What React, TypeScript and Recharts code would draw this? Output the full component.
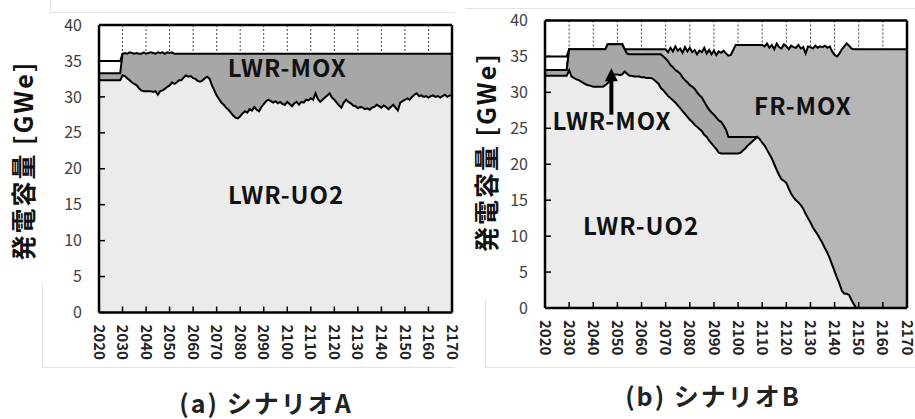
import React from 'react';
import {
  ComposedChart,
  Area,
  XAxis,
  YAxis,
  CartesianGrid,
  ReferenceLine,
  ReferenceDot,
} from 'recharts';

// ---- categories ----
const years: number[] = Array.from({ length: 151 }, (_, i) => 2020 + i);
const yearTicks = [2020, 2030, 2040, 2050, 2060, 2070, 2080, 2090, 2100, 2110, 2120, 2130, 2140, 2150, 2160, 2170];
const capacityTicks = [0, 5, 10, 15, 20, 25, 30, 35, 40];

// ---- Scenario A (cumulative boundaries, GWe) ----
const bandTopA: (number | null)[] = [35, 35, 35, 35, 35, 35, 35, 35, 35, 35, 36];

const lwrMoxTopA: number[] = [
  33.3, 33.3, 33.3, 33.3, 33.3, 33.3, 33.3, 33.3, 33.3, 33.3,
  36.0, 36.1, 36.0, 36.2, 36.1, 36.0, 36.1, 36.0, 36.0, 36.2,
  36.0, 36.1, 36.2, 36.1, 36.0, 36.2, 36.1, 36.2, 36.0, 36.2,
  36.1, 36.2, 36.0, 36.0, 36.0, 36.0, 36.0, 36.0, 36.0, 36.0,
  36.0, 36.0, 36.0, 36.0, 36.0, 36.0, 36.0, 36.0, 36.0, 36.0,
  36.0, 36.0, 36.0, 36.0, 36.0, 36.0, 36.0, 36.0, 36.0, 36.0,
  36.0, 36.0, 36.0, 36.0, 36.0, 36.0, 36.0, 36.0, 36.0, 36.0,
  36.0, 36.0, 36.0, 36.0, 36.0, 36.0, 36.0, 36.0, 36.0, 36.0,
  36.0, 36.0, 36.0, 36.0, 36.0, 36.0, 36.0, 36.0, 36.0, 36.0,
  36.0, 36.0, 36.0, 36.0, 36.0, 36.0, 36.0, 36.0, 36.0, 36.0,
  36.0, 36.0, 36.0, 36.0, 36.0, 36.0, 36.0, 36.0, 36.0, 36.0,
  36.0, 36.0, 36.0, 36.0, 36.0, 36.0, 36.0, 36.0, 36.0, 36.0,
  36.0, 36.0, 36.0, 36.0, 36.0, 36.0, 36.0, 36.0, 36.0, 36.0,
  36.0, 36.0, 36.0, 36.0, 36.0, 36.0, 36.0, 36.0, 36.0, 36.0,
  36.0, 36.0, 36.0, 36.0, 36.0, 36.0, 36.0, 36.0, 36.0, 36.0,
  36.0,
];

const lwrUo2A: number[] = [
  32.3, 32.3, 32.3, 32.3, 32.3, 32.3, 32.3, 32.3, 32.3, 32.3,
  33.0, 32.9, 32.6, 32.3, 32.0, 31.8, 31.6, 31.2, 30.9, 30.8,
  30.8, 30.8, 30.8, 30.7, 30.8, 30.3, 30.8, 30.9, 31.1, 31.4,
  31.6, 32.0, 31.8, 32.0, 32.3, 32.3, 32.7, 33.0, 32.8, 32.9,
  32.6, 32.5, 32.2, 32.1, 32.3, 32.6, 32.8, 32.5, 31.6, 30.9,
  30.2, 29.7, 29.2, 28.9, 28.5, 28.2, 27.8, 27.4, 27.1, 27.0,
  27.3, 27.7, 28.0, 27.8, 28.3, 28.1, 28.6, 28.2, 28.0, 28.6,
  29.0, 29.4, 29.6, 29.4, 29.2, 29.4, 29.1, 29.3, 29.0, 28.9,
  29.3, 29.0, 28.7, 29.1, 29.3, 28.9, 29.3, 29.2, 29.6, 29.5,
  29.8, 29.6, 30.5, 29.7, 29.3, 29.6, 29.9, 30.2, 30.5, 29.9,
  29.6, 29.2, 28.8, 28.5, 29.2, 29.6, 29.3, 29.1, 28.8, 28.7,
  28.4, 28.6, 28.5, 28.3, 28.4, 28.2, 28.5, 28.6, 28.9, 28.7,
  28.5, 28.8, 28.6, 28.3, 28.6, 28.9, 28.5, 28.1, 29.2, 29.4,
  29.6, 29.8, 29.6, 30.0, 30.3, 30.5, 30.1, 30.2, 30.0, 30.1,
  29.9, 30.1, 30.2, 30.0, 30.1, 29.9, 30.1, 30.3, 30.0, 30.2,
  30.2,
];

// ---- Scenario B (cumulative boundaries, GWe) ----
const bandTopB: (number | null)[] = [35, 35, 35, 35, 35, 35, 35, 35, 35, 35, 36];

const frMoxTopB: number[] = [
  33.1, 33.1, 33.1, 33.1, 33.1, 33.1, 33.1, 33.1, 33.1, 33.1,
  36.0, 36.0, 36.0, 36.0, 36.0, 36.0, 36.0, 36.0, 36.0, 36.0,
  36.0, 36.0, 36.0, 36.0, 36.0, 36.0, 36.7, 36.7, 36.7, 36.7,
  36.7, 36.7, 36.7, 36.0, 36.0, 36.0, 36.0, 36.0, 36.0, 36.0,
  36.0, 36.0, 36.0, 36.0, 36.0, 36.0, 36.0, 36.0, 36.0, 36.0,
  36.0, 35.6, 36.2, 35.7, 36.4, 35.8, 36.1, 35.5, 36.3, 35.7,
  36.2, 35.6, 35.9, 35.3, 35.8, 35.6, 36.2, 35.4, 35.9, 35.3,
  35.8, 35.2, 35.7, 35.5, 35.8, 35.4, 35.1, 35.2, 35.9, 36.6,
  36.6, 36.6, 36.6, 36.6, 36.6, 36.6, 36.6, 36.6, 36.6, 36.6,
  36.6, 36.4, 36.8, 36.2, 36.6, 36.0, 36.8, 36.3, 36.1, 36.7,
  36.4, 36.0, 36.5, 36.3, 36.2, 36.6, 36.1, 36.3, 35.4, 36.4,
  36.3, 36.1, 36.5, 36.2, 36.4, 36.3, 36.5, 36.2, 36.4, 35.7,
  35.2, 35.0, 35.4, 36.0, 36.4, 36.8, 36.5, 36.1, 36.0, 36.0,
  36.0, 36.0, 36.0, 36.0, 36.0, 36.0, 36.0, 36.0, 36.0, 36.0,
  36.0, 36.0, 36.0, 36.0, 36.0, 36.0, 36.0, 36.0, 36.0, 36.0,
  36.0,
];

const lwrMoxTopB: number[] = [
  33.1, 33.1, 33.1, 33.1, 33.1, 33.1, 33.1, 33.1, 33.1, 33.1,
  36.0, 36.0, 36.0, 36.0, 36.0, 36.0, 36.0, 36.0, 36.0, 36.0,
  36.0, 36.0, 36.0, 36.0, 36.0, 36.0, 36.7, 36.7, 36.7, 36.7,
  36.7, 36.7, 36.7, 36.0, 35.4, 35.3, 35.3, 35.3, 35.3, 35.3,
  35.3, 35.3, 35.3, 35.3, 35.3, 35.3, 35.3, 35.3, 35.3, 35.0,
  34.7, 34.3, 33.8, 33.5, 33.1, 32.9, 32.6, 32.1, 31.7, 31.4,
  31.0, 30.8, 30.5, 30.0, 29.6, 29.3, 28.7, 28.1, 27.6, 27.2,
  26.9, 26.5, 26.1, 25.9, 25.4, 24.8, 23.8, 23.8, 23.8, 23.8,
  23.8, 23.8, 23.8, 23.8, 23.8, 23.8, 23.8, 23.8, 23.8,
];

const lwrUo2B: number[] = [
  32.3, 32.3, 32.3, 32.3, 32.3, 32.3, 32.3, 32.3, 32.3, 32.3,
  33.1, 32.2, 32.0, 31.8, 31.7, 31.5, 31.3, 31.1, 31.0, 30.9,
  30.8, 30.8, 30.8, 30.8, 30.8, 31.0, 31.3, 31.7, 32.2, 32.5,
  32.5, 32.4, 32.5, 32.9, 32.6, 32.3, 32.3, 32.2, 32.2, 32.2,
  32.1, 32.1, 32.0, 32.0, 32.0, 31.8, 31.5, 31.2, 30.6, 30.3,
  29.9, 29.5, 29.2, 28.9, 28.6, 28.2, 27.8, 27.4, 27.0, 26.6,
  26.2, 25.9, 25.5, 25.2, 24.9, 24.6, 24.1, 23.8, 23.3, 22.9,
  22.5, 22.1, 21.6, 21.5, 21.5, 21.5, 21.5, 21.5, 21.5, 21.5,
  21.5, 21.6, 21.9, 22.2, 22.6, 22.9, 23.2, 23.5, 23.8, 23.5,
  23.0, 22.6, 22.0, 21.4, 20.8, 20.0, 19.2, 18.5, 17.9, 17.7,
  17.4, 16.6, 15.9, 15.4, 15.0, 14.7, 14.3, 13.8, 13.1, 12.5,
  11.9, 11.2, 10.7, 10.2, 9.6, 9.0, 8.3, 7.7, 6.9, 6.0,
  5.1, 4.2, 3.4, 2.4, 2.0, 2.0, 1.8, 1.1, 0.5, 0,
  0, 0, 0, 0, 0, 0, 0, 0, 0, 0,
  0, 0, 0, 0, 0, 0, 0, 0, 0, 0,
  0,
];

// ---- styling ----
const FONT = '"Noto Sans CJK JP", "Noto Sans", sans-serif';
const UO2_FILL = '#ebebeb';
const LWR_MOX_FILL = '#a7a7a7';
const FR_MOX_FILL = '#b6b6b6';

const dataA = years.map((year, i) => ({
  year,
  band: bandTopA[i] ?? null,
  mox: lwrMoxTopA[i] ?? null,
  uo2: lwrUo2A[i] ?? null,
}));

const dataB = years.map((year, i) => ({
  year,
  band: bandTopB[i] ?? null,
  fr: frMoxTopB[i] ?? null,
  mox: lwrMoxTopB[i] ?? null,
  uo2: lwrUo2B[i] ?? null,
}));

const YearTick = (props: any) => {
  const { x, y, payload } = props;
  return (
    <text
      x={x}
      y={y}
      dy="0.36em"
      transform={`rotate(90, ${x}, ${y})`}
      textAnchor="start"
      fontSize={15}
      fontWeight="bold"
      fill="#222"
      fontFamily={FONT}
    >
      {payload.value}
    </text>
  );
};

const yLabel = (cx: number, dyc: number) => (p: any) => {
  const vb = p.viewBox || {};
  const x = (vb.x ?? 0) + cx;
  const y = (vb.y ?? 0) + (vb.height ?? 0) / 2 + dyc;
  return (
    <text
      transform={`translate(${x}, ${y}) rotate(-90)`}
      textAnchor="middle"
      dominantBaseline="central"
      fontSize={25}
      fontWeight="bold"
      letterSpacing={2}
      fill="#111"
      fontFamily={FONT}
    >
      発電容量 [GWe]
    </text>
  );
};

const areaLabel = (value: string) => ({
  value,
  position: 'center' as const,
  fill: '#111',
  fontSize: 24,
  fontWeight: 'bold',
  letterSpacing: 1,
  fontFamily: FONT,
});

const ArrowHead = (props: any) => {
  const { cx, cy } = props;
  return <polygon points={`${cx},${cy} ${cx - 6.5},${cy + 13} ${cx + 6.5},${cy + 13}`} fill="#000" />;
};

const commonAxes = (yAxisWidth: number, xAxisHeight: number, labelX: number, labelDy: number) => [
  <CartesianGrid key="grid" horizontal={false} stroke="#444" strokeDasharray="2 2" />,
  <XAxis
    key="x"
    dataKey="year"
    type="number"
    domain={[2020, 2170]}
    ticks={yearTicks}
    interval={0}
    height={xAxisHeight}
    axisLine={{ stroke: '#000', strokeWidth: 2.5 }}
    tickLine={{ stroke: '#000', strokeWidth: 1.5 }}
    tickSize={-6}
    tickMargin={18}
    tick={<YearTick />}
  />,
  <YAxis
    key="y"
    type="number"
    domain={[0, 40]}
    ticks={capacityTicks}
    interval={0}
    width={yAxisWidth}
    axisLine={{ stroke: '#000', strokeWidth: 2.5 }}
    tickLine={{ stroke: '#000', strokeWidth: 1.5 }}
    tickSize={-6}
    tickMargin={23}
    tick={{ fill: '#404040', fontSize: 16, fontFamily: FONT }}
    label={{ content: yLabel(labelX, labelDy) }}
  />,
];

const ScenarioA = () => (
  <ComposedChart
    width={475}
    height={419}
    data={dataA}
    margin={{ top: 25, right: 23, bottom: 0, left: 0 }}
  >
    {commonAxes(99, 106.5, 22, -8)}
    <Area type="linear" dataKey="band" fill="#ffffff" fillOpacity={1} stroke="#000" strokeWidth={2} dot={false} activeDot={false} isAnimationActive={false} />
    <Area type="linear" dataKey="mox" fill={LWR_MOX_FILL} fillOpacity={1} stroke="#000" strokeWidth={2} dot={false} activeDot={false} isAnimationActive={false} />
    <Area type="linear" dataKey="uo2" fill={UO2_FILL} fillOpacity={1} stroke="#000" strokeWidth={2} dot={false} activeDot={false} isAnimationActive={false} />
    <ReferenceLine y={40} stroke="#000" strokeWidth={2.5} />
    <ReferenceLine x={2170} stroke="#000" strokeWidth={2.5} />
    <ReferenceDot x={2100} y={34} r={0} label={areaLabel('LWR-MOX')} />
    <ReferenceDot x={2099.5} y={16.3} r={0} label={areaLabel('LWR-UO2')} />
  </ComposedChart>
);

const ScenarioB = () => (
  <ComposedChart
    width={475}
    height={419}
    data={dataB}
    margin={{ top: 20.5, right: 23, bottom: 0, left: 0 }}
  >
    {commonAxes(90, 111, 30, -12)}
    <Area type="linear" dataKey="band" fill="#ffffff" fillOpacity={1} stroke="#000" strokeWidth={2} dot={false} activeDot={false} isAnimationActive={false} />
    <Area type="linear" dataKey="fr" fill={FR_MOX_FILL} fillOpacity={1} stroke="#000" strokeWidth={2} dot={false} activeDot={false} isAnimationActive={false} />
    <Area type="linear" dataKey="mox" fill={LWR_MOX_FILL} fillOpacity={1} stroke="#000" strokeWidth={2} dot={false} activeDot={false} isAnimationActive={false} />
    <Area type="linear" dataKey="uo2" fill={UO2_FILL} fillOpacity={1} stroke="#000" strokeWidth={2} dot={false} activeDot={false} isAnimationActive={false} />
    <ReferenceLine y={40} stroke="#000" strokeWidth={2.5} />
    <ReferenceLine x={2170} stroke="#000" strokeWidth={2.5} />
    <ReferenceLine segment={[{ x: 2047.5, y: 26.9 }, { x: 2047.5, y: 31.8 }]} stroke="#000" strokeWidth={4} />
    <ReferenceDot x={2047.5} y={33.35} r={0} shape={<ArrowHead />} />
    <ReferenceDot x={2126.9} y={28.1} r={0} label={areaLabel('FR-MOX')} />
    <ReferenceDot x={2047.8} y={25.9} r={0} label={areaLabel('LWR-MOX')} />
    <ReferenceDot x={2059.8} y={11.3} r={0} label={areaLabel('LWR-UO2')} />
  </ComposedChart>
);

const faint = '#e3e3e3';
const line = (left: number, top: number, width: number, height: number) => (
  <div style={{ position: 'absolute', left, top, width, height, background: faint }} />
);

const titleStyle = (left: number, top: number): React.CSSProperties => ({
  position: 'absolute',
  left,
  top,
  width: 300,
  textAlign: 'center',
  fontFamily: FONT,
  fontWeight: 'bold',
  fontSize: 25,
  letterSpacing: 2,
  color: '#222',
  lineHeight: '32px',
  whiteSpace: 'nowrap',
});

export default function App() {
  return (
    <div style={{ position: 'absolute', left: 0, top: 0, width: 915, height: 419, background: '#fff', overflow: 'hidden' }}>
      {line(50, 0, 1, 12)}
      {line(50, 12, 405, 1)}
      {line(42, 283, 1, 84)}
      {line(42, 367, 413, 1)}
      {line(465, 8, 450, 1)}
      {line(485, 300, 1, 67)}
      {line(485, 367, 430, 1)}
      <div style={{ position: 'absolute', left: 0, top: 0 }}>
        <ScenarioA />
      </div>
      <div style={{ position: 'absolute', left: 455, top: 0 }}>
        <ScenarioB />
      </div>
      <div style={titleStyle(116, 386)}>(a) シナリオA</div>
      <div style={titleStyle(563, 379)}>(b) シナリオB</div>
    </div>
  );
}
